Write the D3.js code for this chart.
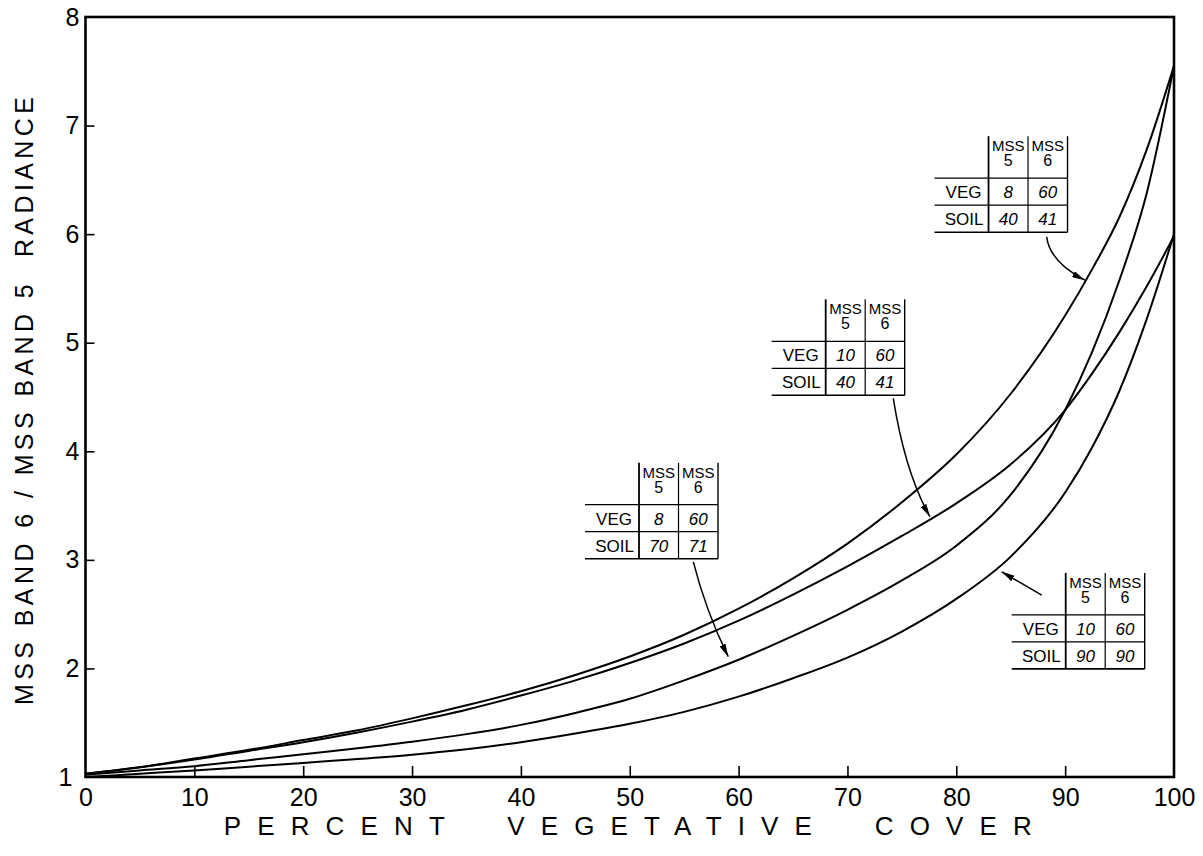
<!DOCTYPE html>
<html><head><meta charset="utf-8">
<script src="https://cdn.jsdelivr.net/npm/d3@7"></script>
<style>body{margin:0;background:#fff}svg{display:block}</style>
</head><body><svg id="c" width="1203" height="856"></svg>
<script>
// ---- data ----
const cover = [0,5,10,15,20,25,30,35,40,45,50,55,60,65,70,75,80,85,90,92.5,95,97.5,100];
const ratioVeg8Soil40  = [1.03,1.09,1.17,1.25,1.34,1.43,1.54,1.66,1.79,1.94,2.11,2.31,2.55,2.83,3.15,3.53,3.97,4.53,5.25,5.68,6.16,6.78,7.55];
const ratioVeg10Soil40 = [1.03,1.09,1.16,1.24,1.32,1.41,1.51,1.62,1.75,1.89,2.05,2.23,2.44,2.68,2.94,3.22,3.52,3.88,4.38,4.72,5.10,5.52,5.98];
const ratioVeg8Soil70  = [1.02,1.06,1.10,1.155,1.21,1.265,1.325,1.395,1.48,1.59,1.72,1.89,2.08,2.30,2.54,2.81,3.13,3.60,4.38,4.92,5.58,6.38,7.55];
const ratioVeg10Soil90 = [1.00,1.03,1.06,1.095,1.13,1.165,1.205,1.255,1.32,1.40,1.49,1.60,1.74,1.91,2.10,2.34,2.64,3.03,3.62,4.04,4.56,5.22,6.00];
const xTicks = [0,10,20,30,40,50,60,70,80,90,100];
const yTicks = [1,2,3,4,5,6,7,8];
// legend tables (MSS 5, MSS 6 for VEG and SOIL)
const tableVeg5  = [8,10,8,10];
const tableVeg6  = [60,60,60,60];
const tableSoil5 = [40,40,70,90];
const tableSoil6 = [41,41,71,90];
const xTitle = "PERCENT  VEGETATIVE  COVER";
const yTitle = "MSS BAND 6 / MSS BAND 5  RADIANCE";

// ---- layout ----
const svg = d3.select("#c");
svg.append("rect").attr("width",1203).attr("height",856).attr("fill","#fff");
const x = d3.scaleLinear().domain([0,100]).range([85.5,1174]);
const y = d3.scaleLinear().domain([1,8]).range([777,17]);
const FONT = "'Liberation Sans', Arial, sans-serif";

// axes
const xAxis = d3.axisBottom(x).tickValues(xTicks).tickFormat(d3.format("d"))
  .tickSizeInner(-11).tickSizeOuter(0).tickPadding(11);
const gx = svg.append("g").attr("transform",`translate(0,${y(1)})`).call(xAxis);
gx.select(".domain").remove();
gx.selectAll("line").attr("stroke","#000").attr("stroke-width",1.6)
  .filter(d=>d===0||d===100).remove();
gx.selectAll("text").attr("font-family",FONT).attr("font-size",25).attr("fill","#000");

const yAxis = d3.axisLeft(y).tickValues(yTicks).tickFormat(d3.format("d"))
  .tickSizeInner(-9).tickSizeOuter(0).tickPadding(6);
const gy = svg.append("g").attr("transform",`translate(${x(0)},0)`).call(yAxis);
gy.select(".domain").remove();
gy.selectAll("line").attr("stroke","#000").attr("stroke-width",1.6)
  .filter(d=>d===1||d===8).remove();
gy.selectAll("text").attr("font-family",FONT).attr("font-size",25).attr("fill","#000");
gy.selectAll(".tick").filter(d=>d===1).select("text").attr("x",-13);

// frame
svg.append("rect").attr("x",x(0)).attr("y",y(8)).attr("width",x(100)-x(0)).attr("height",y(1)-y(8))
  .attr("fill","none").attr("stroke","#000").attr("stroke-width",2.6);

// titles
svg.append("text").attr("x",(x(0)+x(100))/2-2).attr("y",835)
  .attr("text-anchor","middle").attr("font-family",FONT).attr("font-size",26)
  .attr("textLength",808).attr("lengthAdjust","spacing")
  .style("white-space","pre").text(xTitle);
svg.append("text").attr("transform",`translate(33,401) rotate(-90)`)
  .attr("text-anchor","middle").attr("font-family",FONT).attr("font-size",25)
  .attr("textLength",608).attr("lengthAdjust","spacing")
  .style("white-space","pre").text(yTitle);

// curves
const series = [ratioVeg8Soil40, ratioVeg10Soil40, ratioVeg8Soil70, ratioVeg10Soil90];
const line = d3.line().x(d=>x(d[0])).y(d=>y(d[1])).curve(d3.curveMonotoneX);
series.forEach(s=>{
  svg.append("path").datum(cover.map((c,i)=>[c,s[i]])).attr("d",line)
    .attr("fill","none").attr("stroke","#000").attr("stroke-width",2);
});

// tables
const tableAnchor = [[78.0,6.902],[63.04,5.40],[45.89,3.895],[85.09,2.88]];
const LW = 54, CW = 39.5, HH = 42, RH = 27;
tableAnchor.forEach((a,i)=>{
  const g = svg.append("g").attr("transform",`translate(${x(a[0])},${y(a[1])})`);
  const c1 = LW, c2 = LW+CW, c3 = LW+2*CW, H = HH+2*RH;
  const ln = (x1,y1,x2,y2,w)=>g.append("line").attr("x1",x1).attr("y1",y1).attr("x2",x2).attr("y2",y2)
      .attr("stroke","#000").attr("stroke-width",w);
  ln(c1,0,c1,H,1.8); ln(c2,0,c2,H,1.2); ln(c3,0,c3,H,1.4);
  ln(0,HH,c3,HH,1.3); ln(0,HH+RH,c3,HH+RH,1.3); ln(0,H,c3,H,1.6);
  const t = (tx,ty,s,opt={})=>g.append("text").attr("x",tx).attr("y",ty).text(s)
      .attr("font-family",FONT).attr("font-size",opt.size||16).attr("text-anchor",opt.anchor||"middle")
      .attr("font-style",opt.italic?"italic":"normal").attr("fill","#000");
  t((c1+c2)/2,15,"MSS",{size:15}); t((c2+c3)/2,15,"MSS",{size:15});
  t((c1+c2)/2,30,"5",{size:16}); t((c2+c3)/2,30,"6",{size:16});
  t(c1-7,HH+20,"VEG",{size:17,anchor:"end"});
  t(c1-5,HH+RH+20,"SOIL",{size:17,anchor:"end"});
  t((c1+c2)/2,HH+20,tableVeg5[i],{size:17,italic:true});
  t((c2+c3)/2,HH+20,tableVeg6[i],{size:17,italic:true});
  t((c1+c2)/2,HH+RH+20,tableSoil5[i],{size:17,italic:true});
  t((c2+c3)/2,HH+RH+20,tableSoil6[i],{size:17,italic:true});
});

// arrows (start, control, tip in data units)
const defs = svg.append("defs");
defs.append("marker").attr("id","ah").attr("viewBox","0 0 12 6").attr("refX",12).attr("refY",3)
  .attr("markerWidth",13).attr("markerHeight",6.5).attr("markerUnits","userSpaceOnUse").attr("orient","auto")
  .append("path").attr("d","M0,0 L12,3 L0,6 Z").attr("fill","#000");
const arrows = [
  [[88.30,5.975],[88.61,5.742],[91.82,5.576]],
  [[74.21,4.487],[75.31,3.798],[77.58,3.397]],
  [[55.84,2.982],[56.99,2.529],[59.05,2.108]],
  [[87.85,2.676],[86.0,2.783],[84.17,2.890]]
];
arrows.forEach(a=>{
  const p = d3.path();
  p.moveTo(x(a[0][0]),y(a[0][1]));
  p.quadraticCurveTo(x(a[1][0]),y(a[1][1]),x(a[2][0]),y(a[2][1]));
  svg.append("path").attr("d",p.toString()).attr("fill","none").attr("stroke","#000")
    .attr("stroke-width",1.5).attr("marker-end","url(#ah)");
});
</script></body></html>
